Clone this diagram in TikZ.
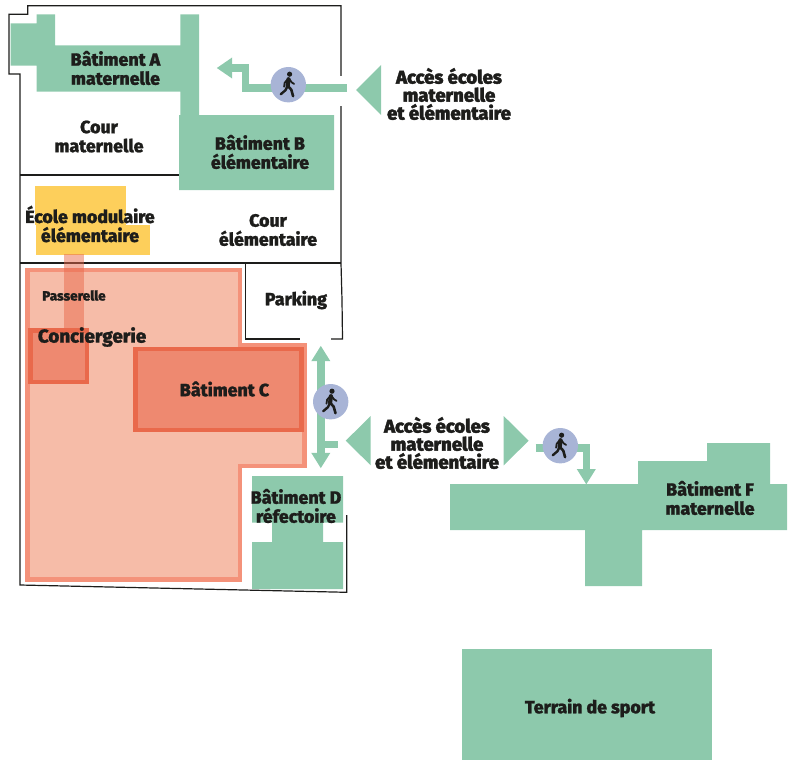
\documentclass[tikz,border=0pt]{standalone}
\usepackage{fontspec}
\setmainfont{Fira Sans}
\newfontfamily\heavyfont{Fira Sans ExtraBold}[FakeBold=1]
\newfontfamily\blackfont{Fira Sans ExtraBold}[FakeBold=2]
\usepackage{tikz}
\usetikzlibrary{arrows.meta,backgrounds}
\definecolor{greenbat}{HTML}{8DC9AC}
\definecolor{yellowbat}{HTML}{FDCF5B}
\definecolor{orangelight}{HTML}{F6BCA8}
\definecolor{orangemid}{HTML}{F4927A}
\definecolor{orangedark}{HTML}{EE8970}
\definecolor{orangeline}{HTML}{E9694B}
\definecolor{walkblue}{HTML}{A8B4D6}
\definecolor{inkblack}{HTML}{1D1D1B}
\tikzset{
        wall/.style={draw=inkblack,line width=1.2pt},
        batiment/.style={fill=greenbat},
        rouge/.style={fill=orangedark,draw=orangeline,line width=4.4pt},
        lbl/.style={text=inkblack,align=center,font=\heavyfont\fontsize{17.8}{19}\selectfont},
        lblacces/.style={lbl,font=\blackfont\fontsize{18.5}{18}\selectfont},
        walkcircle/.style={circle,fill=walkblue,minimum size=35.4pt,inner sep=0pt},
        walkline/.style={draw=greenbat,line width=7.4pt},
        walkarrow/.style={walkline,-{Triangle[length=15.5pt,width=18pt]}},
        walkarrowbig/.style={walkline,-{Triangle[length=15.5pt,width=20pt]}},
        walker/.pic={
                \fill[inkblack] (1.3,-10.5) circle (2.6);
                \draw[inkblack,line width=4.2pt,line cap=round] (0.2,-5.5) -- (-0.6,1);
                \draw[inkblack,line width=2.4pt,line cap=round,line join=round] (-0.6,1) -- (-2.8,5.5) -- (-7.5,9.5);
                \draw[inkblack,line width=2.6pt,line cap=round,line join=round] (-0.6,1) -- (3,5) -- (4.8,11.5);
                \draw[inkblack,line width=1.8pt,line cap=round,line join=round] (0,-6) -- (-3.6,-2) -- (-4.2,2);
                \draw[inkblack,line width=1.8pt,line cap=round,line join=round] (0.8,-6) -- (3.2,-2.5) -- (5.8,-0.8);
        }
}
\begin{document}
\begin{tikzpicture}[x=1pt,y=-1pt]
        \useasboundingbox (0,0) rectangle (795,760);

        % plan outline
        \draw[wall] (341,76) -- (341,5.7) -- (27.7,5.7) -- (27.7,14.3) -- (9,14.3) -- (9,74) -- (20,74) -- (20,585) -- (346.7,592.3) -- (346.7,515);
        \draw[wall] (341,106) -- (341,263) -- (342,300) -- (342.5,339) -- (331,339);
        \draw[wall] (20,175) -- (179,175);
        \draw[wall] (20,263) -- (341,263);
        \draw[wall] (245.7,263) -- (245.7,339) -- (300,339);

        % buildings
        \fill[batiment] (10.7,23.3) -- (36.7,23.3) -- (36.7,14.3) -- (55,14.3) -- (55,45.3) -- (180.3,45.3) -- (180.3,14.3) -- (199,14.3) -- (199,115) -- (334,115) -- (334,190) -- (179,190) -- (179,115) -- (180.3,115) -- (180.3,91.7) -- (36.7,91.7) -- (36.7,65.7) -- (10.7,65.7) -- cycle;
        \fill[batiment] (252,476) -- (343,476) -- (343,522.7) -- (323,522.7) -- (323,542) -- (343,542) -- (343,589) -- (252,589) -- (252,542) -- (272,542) -- (272,522.7) -- (252,522.7) -- cycle;
        \fill[batiment] (450,484) -- (638,484) -- (638,461) -- (707,461) -- (707,443) -- (770,443) -- (770,484) -- (787,484) -- (787,530) -- (642,530) -- (642,586) -- (585,586) -- (585,530) -- (450,530) -- cycle;
        \fill[batiment] (462,649) rectangle (712,760);

        \fill[yellowbat] (35,186) rectangle (126,225);
        \fill[yellowbat] (36,225) rectangle (150,255);

        \draw[fill=orangelight,draw=orangemid,line width=4.6pt] (27.3,270) -- (240,270) -- (240,345.6) -- (304.7,345.6) -- (304.7,466) -- (240,466) -- (240,579.4) -- (27.3,579.4) -- cycle;
        \fill[orangeline,opacity=.5] (64,254.3) rectangle (84,328);
        \draw[rouge] (30.6,330.6) rectangle (86.7,382);
        \draw[rouge] (135.5,349) rectangle (301.5,429.8);

        % access triangles
        \fill[batiment] (356,90) -- (381,65) -- (381,115) -- cycle;
        \fill[batiment] (345.7,440.7) -- (370.7,416) -- (370.7,465.3) -- cycle;
        \fill[batiment] (528.7,440.7) -- (503.7,416) -- (503.7,465.3) -- cycle;

        % walkers
        \node[walkcircle] (walkA) at (288.3,84.7) {};
        \node[walkcircle] (walkB) at (330.7,401.7) {};
        \node[walkcircle] (walkC) at (560.3,445.7) {};
        \pic at (walkA) {walker};
        \pic at (walkB) {walker};
        \pic at (walkC) {walker};

        \coordinate (accesA) at (347,88);
        \coordinate (bendA) at (245.5,88);
        \coordinate (bendAtop) at (245.5,68);
        \coordinate (tipA) at (216.7,68);
        \coordinate (topB) at (320.8,345.7);
        \coordinate (botB) at (320.8,468.3);
        \coordinate (branchB) at (320.8,444.3);
        \coordinate (accesB) at (338.3,444.3);
        \coordinate (accesC) at (535.7,448);
        \coordinate (bendC) at (586.3,448);
        \coordinate (tipC) at (586.3,484.5);

        \begin{scope}[on background layer]
                \draw[walkarrowbig] (accesA) -- (bendA) -- (bendAtop) -- (tipA);
                \draw[walkline,{Triangle[length=15.5pt,width=18pt]}-{Triangle[length=15.5pt,width=18pt]}] (topB) -- (botB);
                \draw[walkline] (branchB) -- (accesB);
                \draw[walkarrow] (accesC) -- (bendC) -- (tipC);
        \end{scope}

        % labels
        \node[lbl] (batA) at (115.5,68) {Bâtiment A\\maternelle};
        \node[lbl] (courM) at (99,136.5) {Cour\\maternelle};
        \node[lbl] (batB) at (260,152) {Bâtiment B\\élémentaire};
        \node[lbl] (modulaire) at (90,224) {École modulaire\\élémentaire};
        \node[lbl] (courE) at (268,230) {Cour\\élémentaire};
        \node[lbl,font=\heavyfont\fontsize{13.5}{14}\selectfont] (passerelle) at (74,295.5) {Passerelle};
        \node[lbl] (parking) at (296,300) {Parking};
        \node[lbl,font=\heavyfont\fontsize{18.8}{19}\selectfont] (concierge) at (92,337) {Conciergerie};
        \node[lbl] (batC) at (224.5,389) {Bâtiment C};
        \node[lbl] (batD) at (296,506) {Bâtiment D\\réfectoire};
        \node[lblacces] (txtA) at (449,94) {Accès écoles\\maternelle\\et élémentaire};
        \node[lblacces] (txtB) at (437,443) {Accès écoles\\maternelle\\et élémentaire};
        \node[lbl] (batF) at (710,498) {Bâtiment F\\maternelle};
        \node[lbl] (sport) at (590,708) {Terrain de sport};
\end{tikzpicture}
\end{document}
